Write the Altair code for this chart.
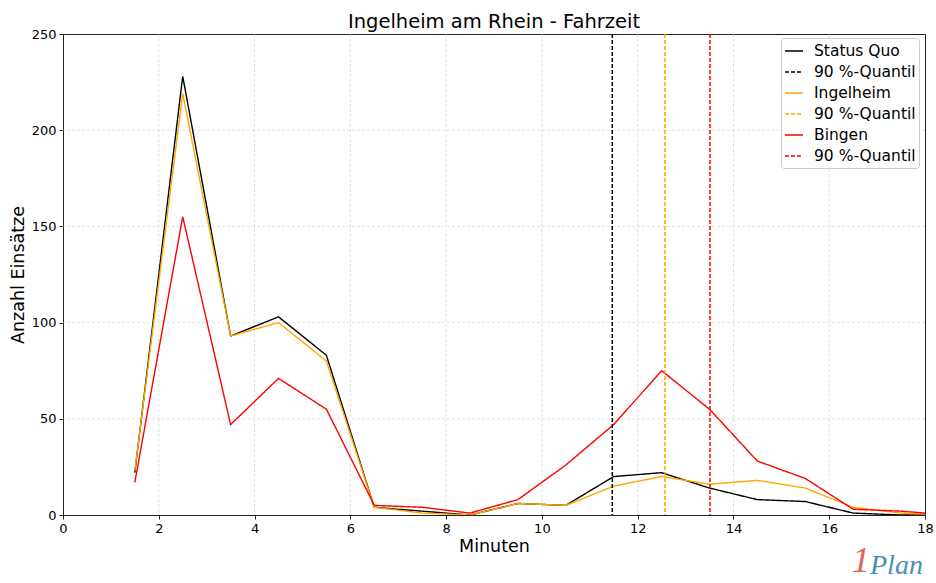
import altair as alt
import pandas as pd

minutes = [1.5, 2.5, 3.5, 4.5, 5.5, 6.5, 7.5, 8.5, 9.5, 10.5, 11.5, 12.5, 13.5, 14.5, 15.5, 16.5, 17.5, 18.5]
status_quo = [22, 228, 93, 103, 83, 4, 2, 0, 6, 5, 20, 22, 14, 8, 7, 1, 0, 0]
ingelheim = [23, 219, 93, 100, 80, 4, 1, 0, 6, 5, 15, 20, 16, 18, 14, 4, 1, 0]
bingen = [17, 155, 47, 71, 55, 5, 4, 1, 8, 26, 47, 75, 55, 28, 19, 3, 2, 0]

series_keys = ["sq", "ing", "bin"]
quantile_keys = ["sq_q", "ing_q", "bin_q"]
quantiles = [11.47, 12.57, 13.51]

x_ticks = [0, 2, 4, 6, 8, 10, 12, 14, 16, 18]
y_ticks = [0, 50, 100, 150, 200, 250]
x_grid = [2, 4, 6, 8, 10, 12, 14, 16]
y_grid = [50, 100, 150, 200]

legend_domain = ["sq", "sq_q", "ing", "ing_q", "bin", "bin_q"]
legend_colors = ["#000000", "#000000", "#ffa500", "#ffa500", "#ff0000", "#ff0000"]
legend_dash = [[1, 0], [4, 2], [1, 0], [4, 2], [1, 0], [4, 2]]

rows = []
for key, vals in zip(series_keys, [status_quo, ingelheim, bingen]):
    for m, v in zip(minutes, vals):
        rows.append({"Minuten": m, "Anzahl": v, "key": key})
lines_df = pd.DataFrame(rows)
q_df = pd.DataFrame({"q": quantiles, "key": quantile_keys})

label_expr = ("datum.value == 'sq' ? 'Status Quo' : datum.value == 'ing' ? 'Ingelheim' : "
              "datum.value == 'bin' ? 'Bingen' : '90 %-Quantil'")

color_scale = alt.Scale(domain=legend_domain, range=legend_colors)
dash_scale = alt.Scale(domain=legend_domain, range=legend_dash)
legend = alt.Legend(title=None, labelExpr=label_expr, orient="none", legendX=718, legendY=4,
                    symbolType="stroke",
                    symbolSize=324, symbolStrokeWidth=1.5, rowPadding=2, labelFontSize=15.5,
                    labelFont="DejaVu Sans", labelColor="#000000", padding=3,
                    strokeColor="#cccccc", fillColor="#ffffff", cornerRadius=3, labelOffset=10)

x_scale = alt.Scale(domain=[0, 18], nice=False, zero=False)
y_scale = alt.Scale(domain=[0, 250], nice=False)

grid_v = alt.Chart(pd.DataFrame({"g": x_grid})).mark_rule(
    color="#d0d0d0", strokeWidth=0.8, strokeDash=[3, 2], opacity=0.8
).encode(x=alt.X("g:Q", scale=x_scale))
grid_h = alt.Chart(pd.DataFrame({"g": y_grid})).mark_rule(
    color="#d0d0d0", strokeWidth=0.8, strokeDash=[3, 2], opacity=0.8
).encode(y=alt.Y("g:Q", scale=y_scale))

lines = alt.Chart(lines_df).mark_line(strokeWidth=1.4, clip=True).encode(
    x=alt.X("Minuten:Q", scale=x_scale, axis=alt.Axis(values=x_ticks, title="Minuten", grid=False)),
    y=alt.Y("Anzahl:Q", scale=y_scale,
            axis=alt.Axis(values=y_ticks, title="Anzahl Einsätze", grid=False)),
    color=alt.Color("key:N", scale=color_scale, legend=legend),
    strokeDash=alt.StrokeDash("key:N", scale=dash_scale, legend=legend),
    order=alt.Order("Minuten:Q"),
)

rules = alt.Chart(q_df).mark_rule(strokeWidth=1.5).encode(
    x=alt.X("q:Q", scale=x_scale),
    color=alt.Color("key:N", scale=color_scale, legend=legend),
    strokeDash=alt.StrokeDash("key:N", scale=dash_scale, legend=legend),
)

logo_one = alt.Chart(pd.DataFrame({"t": ["1"]})).mark_text(
    fontSize=36, font="Liberation Serif", fontStyle="italic", color="#d9665b",
    align="left", baseline="bottom", clip=False
).encode(text="t:N", x=alt.value(789), y=alt.value(546))

logo_plan = alt.Chart(pd.DataFrame({"t": ["Plan"]})).mark_text(
    fontSize=28, font="Liberation Serif", fontStyle="italic", color="#4a8fb5",
    align="left", baseline="bottom", clip=False
).encode(text="t:N", x=alt.value(807), y=alt.value(546))

chart = alt.layer(grid_v, grid_h, lines, rules, logo_one, logo_plan).resolve_scale(
    color="shared", strokeDash="shared"
).properties(
    width=862, height=481,
    title=alt.Title("Ingelheim am Rhein - Fahrzeit", fontSize=19.5, font="DejaVu Sans",
                    fontWeight="normal", color="#000000", anchor="middle", offset=-4, frame="group"),
    autosize=alt.AutoSizeParams(type="none"),
    padding={"left": 63, "top": 34, "right": 11, "bottom": 68},
).configure_view(
    stroke="#222222", strokeWidth=1
).configure_axis(
    labelFont="DejaVu Sans", labelFontSize=13, labelColor="#000000",
    titleFont="DejaVu Sans", titleFontSize=17.5, titleFontWeight="normal", titleColor="#000000",
    domainColor="#222222", tickColor="#222222", tickSize=4,
    labelPadding=3, labelFlush=False,
).configure_axisX(titlePadding=2).configure_axisY(titlePadding=4)

chart.save("out.html", embed_options={"renderer": "svg", "actions": False})
